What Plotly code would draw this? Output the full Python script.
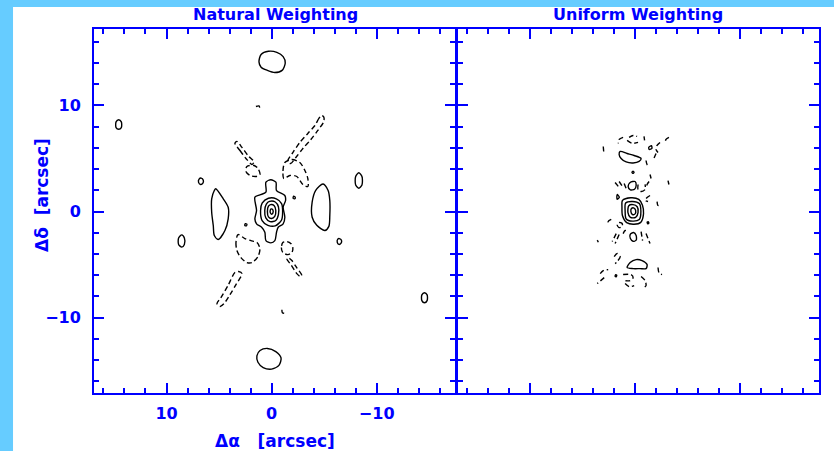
import plotly.graph_objects as go

# Contour paths of the synthesized beams, as (d_alpha, d_delta) vertices in arcsec.
# Solid paths are positive levels, dashed paths negative levels.

# ---- Natural weighting ----
nat_main_lobe = [
    [(1.43, 0.09), (1.59, 1.35), (1.11, 1.57), (0.54, 1.82), (0.54, 2.77), (0.07, 2.99),
     (-0.41, 2.77), (-0.47, 1.98), (-1.26, 1.51), (-1.33, 1.04), (-1.1, 0.41), (-1.26, -0.54),
     (-1.1, -1.16), (-0.63, -1.48), (-0.47, -1.95), (-0.31, -2.74), (0.07, -2.95), (0.54, -2.74),
     (0.64, -1.95), (0.95, -1.48), (1.43, -1.16), (1.59, -0.69), (1.43, 0.09)],
    [(0.3, 1.25), (-0.45, 1.2), (-0.95, 0.75), (-1.05, -0.1), (-0.95, -0.8), (-0.35, -1.35),
     (0.35, -1.3), (0.9, -0.85), (1.05, 0.1), (0.9, 0.8), (0.3, 1.25)],
    [(0.2, 0.95), (-0.35, 0.9), (-0.65, 0.45), (-0.65, -0.3), (-0.4, -0.85), (0.15, -0.95),
     (0.55, -0.6), (0.65, 0.1), (0.5, 0.7), (0.2, 0.95)],
    [(0.1, 0.65), (-0.25, 0.55), (-0.4, 0.1), (-0.3, -0.45), (0.0, -0.65), (0.3, -0.5),
     (0.4, 0.0), (0.3, 0.5), (0.1, 0.65)],
    [(0.05, 0.25), (-0.12, 0.15), (-0.12, -0.15), (0.0, -0.25), (0.12, -0.12), (0.12, 0.15), (0.05, 0.25)],
]

nat_pos_sidelobes = [
    [(5.32, 2.14), (4.6, 1.2), (4.13, 0.4), (4.13, -0.69), (4.44, -1.79), (5.08, -2.64),
     (5.45, -2.26), (5.55, -1.32), (5.7, -0.07), (5.7, 1.2), (5.45, 1.98), (5.32, 2.14)],
    [(-4.9, 2.6), (-4.2, 2.0), (-3.86, 0.88), (-3.86, -0.54), (-4.3, -1.3), (-5.07, -1.79),
     (-5.45, -1.4), (-5.54, -0.38), (-5.54, 1.04), (-5.38, 1.98), (-4.9, 2.6)],
    [(1.2, 14.1), (1.0, 14.8), (0.3, 15.1), (-0.5, 15.0), (-1.1, 14.6), (-1.3, 14.0),
     (-1.0, 13.3), (-0.3, 13.1), (0.4, 13.3), (1.0, 13.6), (1.2, 14.1)],
    [(1.4, -13.6), (1.1, -13.1), (0.4, -12.9), (-0.4, -13.2), (-0.9, -13.8), (-0.7, -14.5),
     (0.0, -14.85), (0.8, -14.7), (1.3, -14.2), (1.4, -13.6)],
    [(14.55, 8.65), (14.3, 8.45), (14.3, 7.9), (14.55, 7.75), (14.8, 7.9), (14.8, 8.45), (14.55, 8.65)],
    [(-14.55, -7.65), (-14.3, -7.85), (-14.3, -8.4), (-14.55, -8.6), (-14.8, -8.4), (-14.8, -7.85), (-14.55, -7.65)],
    [(8.55, -2.2), (8.3, -2.5), (8.3, -3.1), (8.55, -3.35), (8.85, -3.1), (8.85, -2.5), (8.55, -2.2)],
    [(-8.3, 3.65), (-8.0, 3.3), (-8.0, 2.5), (-8.3, 2.2), (-8.6, 2.5), (-8.6, 3.3), (-8.3, 3.65)],
    [(6.7, 3.15), (6.5, 2.95), (6.55, 2.65), (6.75, 2.55), (6.95, 2.75), (6.9, 3.05), (6.7, 3.15)],
    [(-6.45, -2.55), (-6.65, -2.7), (-6.6, -3.0), (-6.4, -3.1), (-6.25, -2.9), (-6.3, -2.6), (-6.45, -2.55)],
    [(-2.1, 1.45), (-2.25, 1.35), (-2.2, 1.2), (-2.05, 1.25), (-2.1, 1.45)],
    [(2.5, -1.15), (2.35, -1.2), (2.4, -1.35), (2.55, -1.3), (2.5, -1.15)],
]

nat_neg_sidelobes = [
    [(1.49, 9.9), (1.2, 9.95), (1.11, 9.7)],
    [(-0.98, -9.25), (-1.03, -9.53), (-1.36, -9.6)],
    [(-4.75, 9.05), (-4.5, 8.77), (-4.12, 8.11), (-3.45, 7.36), (-2.69, 6.51), (-2.02, 5.56),
     (-1.55, 4.81), (-1.7, 4.55), (-1.83, 4.53), (-2.31, 5.09), (-2.98, 5.94), (-3.74, 6.79),
     (-4.4, 7.64), (-4.97, 8.49), (-4.97, 8.9), (-4.75, 9.05)],
    [(-1.26, 4.62), (-1.93, 4.9), (-2.69, 4.62), (-3.17, 3.87), (-3.45, 3.11), (-3.45, 2.36),
     (-2.98, 2.55), (-2.4, 3.3), (-1.74, 3.4), (-1.17, 3.11), (-1.08, 3.77), (-1.26, 4.62)],
    [(3.49, 6.42), (3.01, 5.75), (2.44, 5.0), (1.87, 4.43), (1.7, 4.6), (1.68, 4.72),
     (2.25, 5.28), (2.82, 6.04), (3.3, 6.61), (3.49, 6.42)],
    [(2.35, 4.25), (2.44, 3.77), (2.06, 3.4), (1.49, 3.3), (1.11, 3.49), (1.3, 4.06), (1.68, 4.34), (2.35, 4.25)],
    [(3.2, -2.17), (3.39, -2.92), (3.3, -3.68), (2.92, -4.34), (2.35, -4.81), (1.87, -4.81),
     (1.3, -4.25), (1.11, -3.49), (1.39, -2.92), (1.97, -2.74), (2.54, -2.55), (3.2, -2.17)],
    [(3.15, -5.65), (3.49, -5.75), (4.15, -6.98), (4.82, -8.11), (5.2, -8.68), (4.9, -8.95),
     (4.53, -8.68), (3.96, -7.83), (3.39, -6.89), (2.82, -5.85), (3.15, -5.65)],
    [(-1.07, -2.92), (-0.93, -3.4), (-1.07, -3.87), (-1.55, -4.06), (-1.93, -3.87), (-2.02, -3.4),
     (-1.83, -3.02), (-1.45, -2.83), (-1.07, -2.92)],
    [(-1.45, -4.43), (-1.9, -5.1), (-2.4, -5.85), (-2.7, -6.1), (-2.88, -6.04), (-2.4, -5.3),
     (-1.93, -4.62), (-1.65, -4.4), (-1.45, -4.43)],
]

# ---- Uniform weighting ----
uni_main_lobe = [
    [(1.2, 1.05), (0.4, 1.3), (-0.35, 1.15), (-0.7, 0.6), (-0.8, -0.2), (-0.55, -1.0), (0.1, -1.2),
     (0.8, -1.05), (1.2, -0.4), (1.25, 0.4), (1.2, 1.05)],
    [(0.9, 0.8), (0.25, 0.95), (-0.4, 0.75), (-0.55, 0.0), (-0.4, -0.75), (0.25, -0.9),
     (0.85, -0.7), (0.95, 0.05), (0.9, 0.8)],
    [(0.6, 0.55), (0.2, 0.65), (-0.2, 0.45), (-0.28, -0.1), (-0.05, -0.55), (0.45, -0.55), (0.68, -0.1), (0.6, 0.55)],
    [(0.35, 0.28), (0.1, 0.33), (-0.05, 0.1), (0.0, -0.22), (0.25, -0.28), (0.4, 0.0), (0.35, 0.28)],
]

uni_pos_sidelobes = [
    [(1.42, 5.66), (0.76, 5.47), (0.09, 5.28), (-0.57, 5.0), (-0.38, 4.72), (0.19, 4.58),
     (0.85, 4.67), (1.33, 5.0), (1.52, 5.38), (1.42, 5.66)],
    [(0.76, -5.28), (0.47, -4.81), (-0.09, -4.53), (-0.66, -4.62), (-1.14, -5.0), (-1.04, -5.38),
     (-0.47, -5.38), (0.19, -5.38), (0.76, -5.28)],
    [(0.66, 2.35), (0.47, 2.74), (0.0, 2.83), (-0.1, 2.45), (0.05, 2.1), (0.45, 2.05), (0.66, 2.35)],
    [(0.47, -2.17), (0.15, -1.98), (-0.1, -2.25), (-0.1, -2.7), (0.2, -2.8), (0.45, -2.55), (0.47, -2.17)],
    [(-1.3, 6.05), (-1.55, 6.2), (-1.6, 5.95), (-1.35, 5.85), (-1.3, 6.05)],
    [(0.1, 3.7), (0.2, 3.8), (0.3, 3.7), (0.2, 3.6), (0.1, 3.7)],
    [(1.71, 1.6), (1.5, 1.35), (1.71, 1.15), (1.71, 1.6)],
    [(-1.15, -1.0), (-1.25, -0.95), (-1.3, -1.1), (-1.2, -1.15), (-1.15, -1.0)],
    [(1.75, -6.0), (1.85, -5.95), (1.9, -6.1), (1.8, -6.15), (1.75, -6.0)],
]

uni_neg_sidelobes = [
    [(1.14, 6.98), (1.52, 6.79), (1.61, 6.42)],
    [(0.57, 6.98), (0.19, 7.17), (-0.19, 7.08)],
    [(0.76, 6.7), (0.28, 6.42), (-0.28, 6.51)],
    [(-0.85, 7.08), (-0.9, 6.7)],
    [(-2.37, 6.51), (-2.09, 6.23), (-1.99, 5.85), (-2.18, 5.57)],
    [(-3.22, 6.98), (-2.94, 6.79), (-2.84, 6.42)],
    [(3.03, 6.13), (2.99, 5.66)],
    [(-1.04, 4.81), (-1.14, 4.43), (-1.42, 4.25)],
    [(-1.99, 5.47), (-1.71, 4.81)],
    [(-1.42, 3.49), (-1.52, 3.11)],
    [(-3.13, 2.92), (-3.22, 2.55)],
    [(1.9, 2.74), (1.52, 2.26)],
    [(1.52, 2.83), (1.14, 2.26)],
    [(1.04, 2.64), (0.85, 2.17)],
    [(-0.28, 2.55), (-0.28, 2.08), (-0.57, 1.89), (-0.95, 2.08), (-0.95, 2.55)],
    [(-1.33, 2.83), (-1.14, 2.55), (-1.04, 2.26)],
    [(-1.42, 1.51), (-1.14, 1.32), (-0.95, 1.04), (-1.23, 0.94)],
    [(-2.09, 0.94), (-2.18, 0.57), (-2.37, 0.66)],
    [(2.27, -0.75), (2.56, -0.94), (2.46, -1.18)],
    [(1.71, -1.23), (1.52, -1.04), (1.23, -1.13), (1.23, -1.42), (1.52, -1.51), (1.71, -1.23)],
    [(1.8, -2.08), (2.18, -2.83)],
    [(1.52, -2.17), (1.9, -3.02)],
    [(1.14, -2.08), (0.95, -1.79), (0.66, -1.89)],
    [(-0.57, -1.89), (-0.71, -2.74)],
    [(-1.04, -2.08), (-1.42, -3.02)],
    [(3.6, -2.7), (3.5, -2.9)],
    [(1.99, -4.25), (1.71, -3.96), (1.42, -4.25), (1.71, -4.72), (1.9, -4.91)],
    [(-2.18, -5.28), (-2.27, -5.75), (-2.56, -5.94)],
    [(3.32, -5.85), (3.03, -5.57), (2.56, -5.47)],
    [(2.94, -6.23), (3.6, -6.79)],
    [(1.14, -5.94), (0.38, -5.94), (0.19, -6.23), (0.47, -6.51), (1.14, -6.51)],
    [(0.95, -6.79), (0.57, -7.08), (0.09, -6.98)],
    [(-0.57, -6.13), (-0.95, -6.51), (-1.04, -6.98), (-0.85, -7.17)],
]

panel_titles = ["Natural Weighting", "Uniform Weighting"]
tick_step_major = 10
tick_step_minor = 2
x_range = [16.9, -17.5]
y_range = [-17.1, 17.2]

AXIS_BLUE = "#0000ff"
FRAME_BLUE = "#66ccff"
FONT = "DejaVu Sans"

fig = go.Figure()


def add_paths(paths, xa, ya, dashed):
    for pts in paths:
        fig.add_trace(go.Scatter(
            x=[p[0] for p in pts], y=[p[1] for p in pts],
            xaxis=xa, yaxis=ya, mode="lines",
            line=dict(color="black", width=1.4, dash="5px,3px" if dashed else "solid",
                      shape="spline", smoothing=0.8),
            hoverinfo="skip", showlegend=False,
        ))


add_paths(nat_main_lobe, "x", "y", False)
add_paths(nat_pos_sidelobes, "x", "y", False)
add_paths(nat_neg_sidelobes, "x", "y", True)
add_paths(uni_main_lobe, "x2", "y2", False)
add_paths(uni_pos_sidelobes, "x2", "y2", False)
add_paths(uni_neg_sidelobes, "x2", "y2", True)

axis_style = dict(
    showline=True, linecolor=AXIS_BLUE, linewidth=2, mirror="ticks",
    ticks="inside", tickcolor=AXIS_BLUE, tickwidth=2, ticklen=10,
    tickmode="linear", tick0=0, dtick=tick_step_major,
    minor=dict(ticks="inside", tick0=0, dtick=tick_step_minor, ticklen=5,
               tickwidth=2, tickcolor=AXIS_BLUE, showgrid=False),
    showgrid=False, zeroline=False,
    tickfont=dict(family=FONT, size=16, color=AXIS_BLUE, weight="bold"),
)

fig.update_layout(
    width=834, height=451,
    margin=dict(l=94, r=15, t=29, b=58),
    paper_bgcolor="white", plot_bgcolor="white",
    xaxis=dict(domain=[0, 0.4986], range=x_range, anchor="y", ticklabelstandoff=5, **axis_style),
    yaxis=dict(domain=[0, 1], range=y_range, anchor="x", ticklabelstandoff=8, **axis_style),
    xaxis2=dict(domain=[0.5014, 1], range=x_range, anchor="y2", showticklabels=False, **axis_style),
    yaxis2=dict(domain=[0, 1], range=y_range, anchor="x2", showticklabels=False, **axis_style),
    showlegend=False,
)

# light-blue frame strips along the left and top edges of the page
fig.add_shape(type="rect", xref="paper", yref="paper", x0=-0.1297, x1=-0.1117,
              y0=-0.16, y1=1.08, fillcolor=FRAME_BLUE, line_width=0, layer="below")
fig.add_shape(type="rect", xref="paper", yref="paper", x0=-0.1297, x1=1.03,
              y0=1.0604, y1=1.08, fillcolor=FRAME_BLUE, line_width=0, layer="below")

for i, title in enumerate(panel_titles):
    fig.add_annotation(text=title, xref="paper", yref="paper", x=0.25 + 0.5 * i, y=1.0385,
                       xanchor="center", yanchor="middle", showarrow=False,
                       font=dict(family=FONT, size=16, color=AXIS_BLUE, weight="bold"))

fig.add_annotation(text="Δα\u00a0\u00a0\u00a0[arcsec]", xref="paper", yref="paper", x=0.25, y=-0.132,
                   xanchor="center", yanchor="middle", showarrow=False,
                   font=dict(family=FONT, size=17, color=AXIS_BLUE, weight="bold"))
fig.add_annotation(text="Δδ\u00a0\u00a0[arcsec]", xref="paper", yref="paper", x=-0.0717, y=0.544,
                   xanchor="center", yanchor="middle", showarrow=False, textangle=-90,
                   font=dict(family=FONT, size=17, color=AXIS_BLUE, weight="bold"))

fig.write_html("out.html")
